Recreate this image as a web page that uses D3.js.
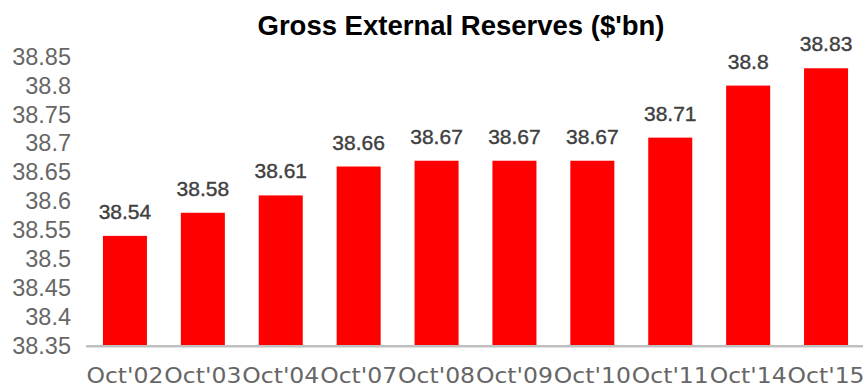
<!DOCTYPE html>
<html>
<head>
<meta charset="utf-8">
<script src="https://cdn.jsdelivr.net/npm/d3@7"></script>
<style>
  html, body { margin: 0; padding: 0; background: #fff; }
  svg { display: block; }
</style>
</head>
<body>
<svg id="chart" width="863" height="387"></svg>
<script>
// Gross external reserves by period
const categories = ["Oct'02", "Oct'03", "Oct'04", "Oct'07", "Oct'08", "Oct'09", "Oct'10", "Oct'11", "Oct'14", "Oct'15"];
const reserves = [38.54, 38.58, 38.61, 38.66, 38.67, 38.67, 38.67, 38.71, 38.8, 38.83];
const yTicks = [38.35, 38.4, 38.45, 38.5, 38.55, 38.6, 38.65, 38.7, 38.75, 38.8, 38.85];
const title = "Gross External Reserves ($'bn)";

const svg = d3.select("#chart");
const W = 863, H = 387;
const plotLeft = 86, plotRight = 865, plotTop = 56.7, plotBottom = 345.7;

const x = d3.scaleBand().domain(categories).range([plotLeft, plotRight]).paddingInner(0.435).paddingOuter(0.2175);
const y = d3.scaleLinear().domain([38.35, 38.85]).range([plotBottom, plotTop]);

// Title
svg.append("text")
  .attr("x", 461).attr("y", 34.5)
  .attr("text-anchor", "middle")
  .attr("font-family", "Liberation Sans, Arial, sans-serif")
  .attr("font-weight", "bold")
  .attr("font-size", 27.5)
  .attr("fill", "#000")
  .text(title);

// Y axis labels (no line, no ticks)
const yAxis = d3.axisLeft(y).tickValues(yTicks).tickSize(0).tickPadding(0).tickFormat(d3.format("~g"));
const gy = svg.append("g").attr("transform", "translate(71,0)").call(yAxis);
gy.select(".domain").remove();
gy.selectAll("text")
  .attr("font-family", "Liberation Sans, Arial, sans-serif")
  .attr("font-size", 23.5)
  .attr("fill", "#666");

// Bars
svg.append("g").selectAll("rect")
  .data(reserves)
  .join("rect")
  .attr("x", (d, i) => x(categories[i]))
  .attr("width", x.bandwidth())
  .attr("y", d => y(d))
  .attr("height", d => y(38.35) - y(d))
  .attr("fill", "#ff0000");

// Baseline
svg.append("line")
  .attr("x1", plotLeft).attr("x2", W)
  .attr("y1", y(38.35) + 0.5).attr("y2", y(38.35) + 0.5)
  .attr("stroke", "#bfbfbf").attr("stroke-width", 2.5);

// Value labels
svg.append("g").selectAll("text")
  .data(reserves)
  .join("text")
  .attr("x", (d, i) => x(categories[i]) + x.bandwidth() / 2)
  .attr("y", d => y(d) - 17)
  .attr("text-anchor", "middle")
  .attr("font-family", "Liberation Sans, Arial, sans-serif")
  .attr("font-size", 21)
  .attr("fill", "#404040")
  .attr("stroke", "#404040").attr("stroke-width", 0.4)
  .text(d => d3.format("~g")(d));

// X axis labels
const xAxis = d3.axisBottom(x).tickSize(0).tickPadding(0);
const gx = svg.append("g").attr("transform", `translate(0,${y(38.35)})`).call(xAxis);
gx.select(".domain").remove();
gx.selectAll("text")
  .attr("dy", null)
  .attr("y", 37)
  .attr("font-family", "DejaVu Sans, sans-serif")
  .attr("font-size", 21)
  .attr("fill", "#666")
  .attr("textLength", 77)
  .attr("lengthAdjust", "spacingAndGlyphs");
</script>
</body>
</html>
